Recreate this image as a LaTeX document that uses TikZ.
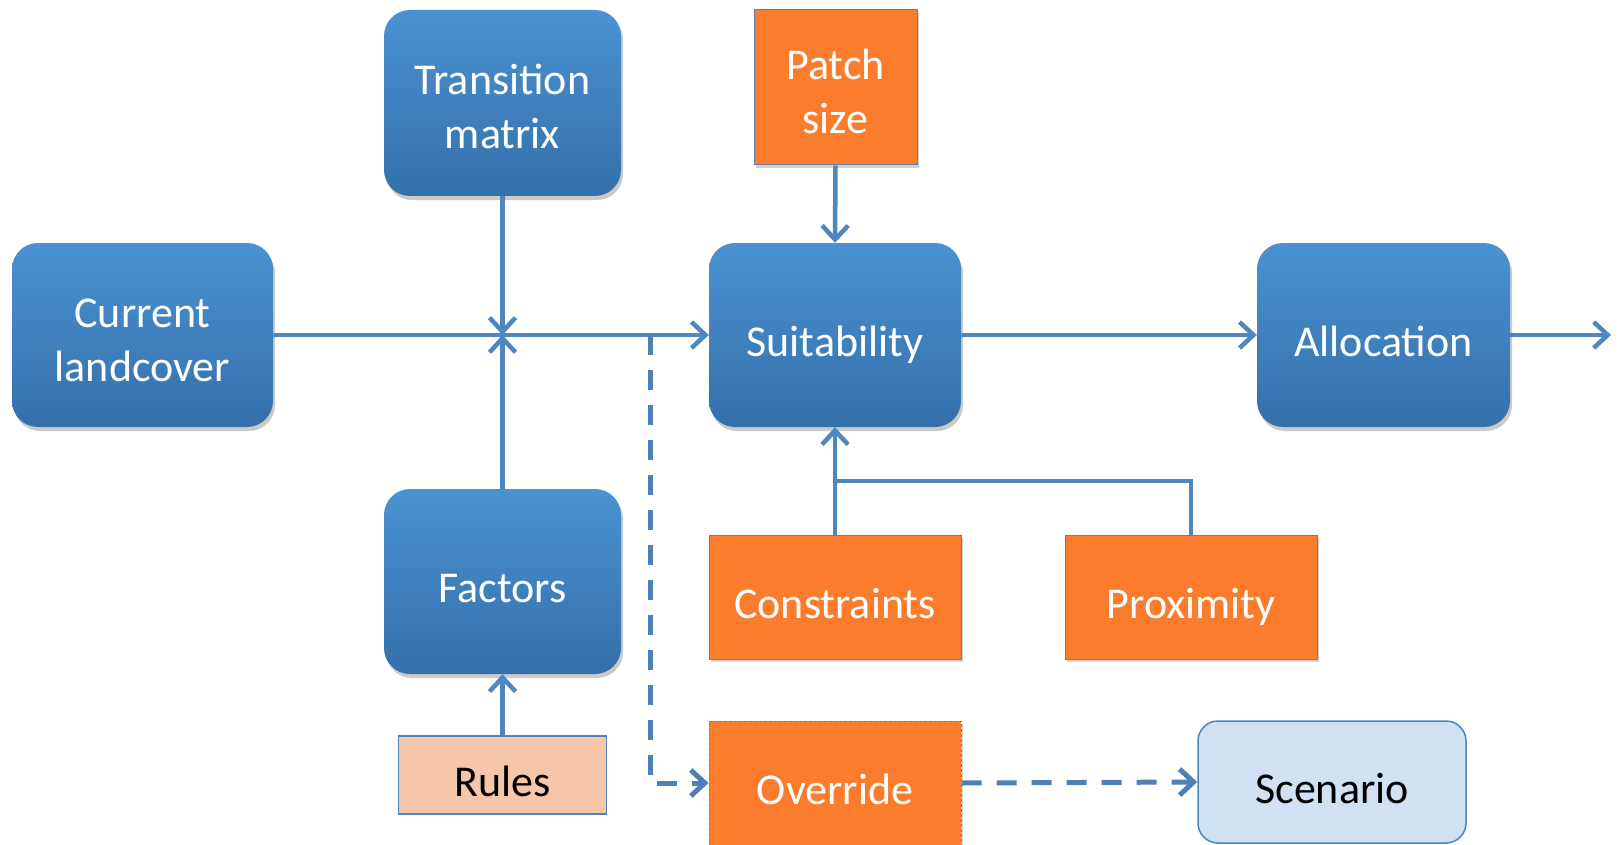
\documentclass[tikz,border=0pt]{standalone}
\usepackage{fontspec}
\setmainfont{Carlito}
\usetikzlibrary{arrows.meta,shadows}
\definecolor{bluetop}{RGB}{74,146,210}
\definecolor{bluebot}{RGB}{52,112,170}
\definecolor{orangefill}{RGB}{250,124,44}
\definecolor{edgeblue}{RGB}{80,130,190}
\definecolor{linecol}{RGB}{79,134,192}
\definecolor{dashcol}{RGB}{78,128,180}
\definecolor{rulesfill}{RGB}{245,198,170}
\definecolor{scenfill}{RGB}{208,225,244}
\tikzset{
  boxbase/.style={inner sep=0pt, align=center, font=\fontsize{44}{54}\selectfont},
  oneline/.style={text height=46pt, text depth=4pt},
  twoline/.style={text height=98pt, text depth=6pt},
  bluebox/.style={boxbase, rounded corners=26pt, top color=bluetop, bottom color=bluebot, draw=none, text=white,
     drop shadow={shadow xshift=2pt, shadow yshift=-4pt, opacity=0.35, fill=black!60}},
  orangebox/.style={boxbase, fill=orangefill, draw=edgeblue!70!gray, line width=1pt, text=white,
     drop shadow={shadow xshift=2pt, shadow yshift=-3pt, opacity=0.3, fill=black!60}},
  rulesbox/.style={boxbase, fill=rulesfill, draw=edgeblue, line width=1.5pt, text=black},
  scenbox/.style={boxbase, rounded corners=20pt, fill=scenfill, draw=edgeblue, line width=1.5pt, text=black},
  conn/.style={draw=linecol, line width=4.5pt},
  arr/.style={conn, -{Straight Barb[length=14pt,width=26pt,line width=4.5pt]}},
  dasharr/.style={draw=dashcol, line width=5pt, dash pattern=on 20pt off 15pt,
     -{Straight Barb[length=14pt,width=26pt,line width=5pt]}},
}
\begin{document}
\begin{tikzpicture}[x=1pt,y=-1pt]
\useasboundingbox (0,0) rectangle (1621,845);
\node[bluebox, twoline, minimum width=261pt, minimum height=184pt] (cur) at (142.5,335) {Current\\landcover};
\node[bluebox, twoline, minimum width=237pt, minimum height=186pt] (trans) at (502.5,103) {Transition\\matrix};
\node[orangebox, twoline, minimum width=163pt, minimum height=155pt] (patch) at (835.5,87.5) {Patch\\size};
\node[bluebox, oneline, minimum width=252pt, minimum height=184pt] (suit) at (835,335) {Suitability};
\node[bluebox, oneline, minimum width=253pt, minimum height=184pt] (alloc) at (1383.5,335) {Allocation};
\node[bluebox, oneline, minimum width=237pt, minimum height=185pt] (fact) at (502.5,581.5) {Factors};
\node[rulesbox, oneline, minimum width=208pt, minimum height=78pt] (rules) at (502.5,775) {Rules};
\node[orangebox, oneline, minimum width=252pt, minimum height=124pt] (cons) at (835,597) {Constraints};
\node[orangebox, oneline, minimum width=252pt, minimum height=124pt] (prox) at (1191,597) {Proximity};
\node[orangebox, oneline, draw=gray, dash pattern=on 3pt off 2pt, minimum width=252pt, minimum height=124pt] (over) at (835,783) {Override};
\node[scenbox, oneline, minimum width=268pt, minimum height=122pt] (scen) at (1332,782) {Scenario};

\coordinate (j) at (502.5,335);
\coordinate (d1) at (650,335);
\coordinate (d2) at (650,783);
\coordinate (br) at (835,481);
\coordinate (out) at (1611,335);

\draw[arr] (cur.east) -- (suit.west);
\draw[arr] (trans.south) -- (j);
\draw[arr] (fact.north) -- (j);
\draw[arr] (rules.north) -- (fact.south);
\draw[arr] (patch.south) -- (suit.north);
\draw[arr] (suit.east) -- (alloc.west);
\draw[arr] (alloc.east) -- (out);
\draw[arr] (cons.north) -- (suit.south);
\draw[conn] (prox.north) |- (br);
\draw[dasharr] (d1) -- (d2) -- (over.west);
\draw[dasharr] (over.east) -- (scen.west);
\end{tikzpicture}
\end{document}
